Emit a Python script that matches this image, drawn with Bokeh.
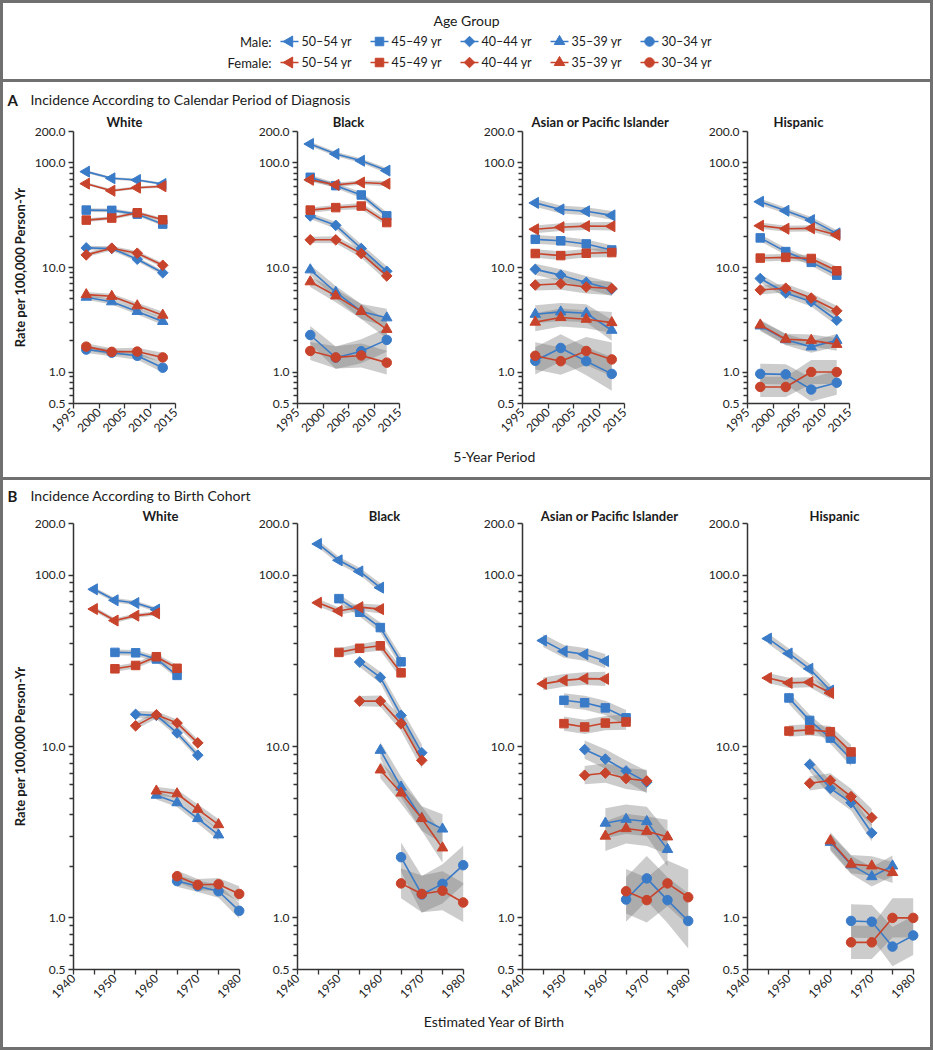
import math
from bokeh.plotting import figure
from bokeh.models import (Range1d, FixedTicker, NumeralTickFormatter, Title,
                          ColumnDataSource, Div)
from bokeh.layouts import column, row
from bokeh.embed import file_html
from bokeh.resources import INLINE
from bokeh.core.properties import value

# ---------------------------------------------------------------- data
RACES = ["White", "Black", "Asian or Pacific Islander", "Hispanic"]
SEXES = ["Male:", "Female:"]
AGE_LABELS = ["50\u201354 yr", "45\u201349 yr", "40\u201344 yr", "35\u201339 yr", "30\u201334 yr"]
AGE_MID = [52.5, 47.5, 42.5, 37.5, 32.5]
PERIOD_MID = [1997.5, 2002.5, 2007.5, 2012.5]
PERIOD_TICKS = [1995, 2000, 2005, 2010, 2015]
COHORT_TICKS = [1940, 1945, 1950, 1955, 1960, 1965, 1970, 1975, 1980]
Y_TICKS = [0.5, 1, 10, 100, 200]
Y_MINOR = [0.6, 0.7, 0.8, 0.9, 2, 3, 4, 5, 6, 7, 8, 9, 20, 30, 40, 50, 60, 70, 80, 90]

# rates per 100,000 person-years; rows = age groups (50-54 ... 30-34), cols = periods
WHITE_MALE = [[82.6, 71.3, 68.7, 62.9], [35.4, 35.2, 32.4, 26.0], [15.4, 15.2, 12.0, 8.9],
              [5.2, 4.7, 3.8, 3.05], [1.64, 1.53, 1.43, 1.10]]
WHITE_FEMALE = [[63.4, 54.3, 58.0, 59.8], [28.4, 29.7, 33.4, 28.6], [13.2, 15.3, 13.7, 10.5],
                [5.5, 5.3, 4.3, 3.5], [1.75, 1.56, 1.57, 1.38]]
BLACK_MALE = [[152.0, 122.0, 105.0, 84.5], [72.9, 60.7, 49.4, 31.2], [31.1, 25.3, 15.2, 9.2],
              [9.5, 5.8, 3.8, 3.3], [2.26, 1.37, 1.58, 2.03]]
BLACK_FEMALE = [[69.0, 61.7, 65.0, 63.3], [35.4, 37.4, 38.7, 26.9], [18.4, 18.4, 13.6, 8.3],
                [7.3, 5.35, 3.8, 2.56], [1.59, 1.38, 1.44, 1.23]]
ASIAN_MALE = [[41.5, 35.9, 34.5, 31.5], [18.6, 18.0, 16.8, 14.7], [9.6, 8.45, 7.2, 6.2],
              [3.57, 3.76, 3.65, 2.51], [1.28, 1.70, 1.27, 0.96]]
ASIAN_FEMALE = [[23.2, 24.3, 24.9, 24.8], [13.6, 13.0, 13.7, 13.9], [6.8, 7.0, 6.5, 6.3],
                [3.0, 3.32, 3.2, 2.97], [1.43, 1.27, 1.59, 1.32]]
HISPANIC_MALE = [[42.6, 34.9, 28.4, 21.2], [19.2, 14.2, 11.2, 8.45], [7.85, 5.7, 4.7, 3.13],
                 [2.76, 2.04, 1.74, 2.01], [0.96, 0.95, 0.68, 0.79]]
HISPANIC_FEMALE = [[25.1, 23.5, 23.7, 20.5], [12.3, 12.5, 12.2, 9.3], [6.1, 6.34, 5.1, 3.85],
                   [2.82, 2.06, 2.01, 1.84], [0.72, 0.72, 1.0, 1.0]]

# 95% CI as multiplicative half-width (upper = rate*f, lower = rate/f)
WHITE_CI = [[1.03, 1.03, 1.03, 1.03], [1.04, 1.04, 1.04, 1.04], [1.05, 1.05, 1.05, 1.05],
            [1.06, 1.06, 1.07, 1.08], [1.08, 1.08, 1.09, 1.11]]
BLACK_CI = [[1.05, 1.05, 1.05, 1.06], [1.06, 1.06, 1.07, 1.08], [1.07, 1.08, 1.10, 1.12],
            [1.12, 1.15, 1.18, 1.22], [1.22, 1.28, 1.30, 1.30]]
ASIAN_CI = [[1.09, 1.09, 1.09, 1.10], [1.10, 1.10, 1.10, 1.11], [1.13, 1.14, 1.15, 1.16],
            [1.22, 1.22, 1.22, 1.26], [1.35, 1.35, 1.36, 1.45]]
HISPANIC_CI = [[1.07, 1.07, 1.07, 1.08], [1.08, 1.08, 1.08, 1.10], [1.10, 1.10, 1.11, 1.12],
               [1.12, 1.13, 1.14, 1.15], [1.25, 1.25, 1.30, 1.30]]

RACE_DATA = [(WHITE_MALE, WHITE_FEMALE, WHITE_CI), (BLACK_MALE, BLACK_FEMALE, BLACK_CI),
             (ASIAN_MALE, ASIAN_FEMALE, ASIAN_CI), (HISPANIC_MALE, HISPANIC_FEMALE, HISPANIC_CI)]

# ---------------------------------------------------------------- style
FONT = "Lato"
BLUE = "#3a7bc8"
RED = "#c8432b"
SEX_COLORS = [BLUE, RED]
FRAME = "#707070"
AXIS = "#333333"
BAND = "#7a7a7a"
TXT = "#1a1a1a"
MARKERS = [("triangle", math.pi / 2, 11), ("square", 0, 8.5), ("square", math.pi / 4, 7.5),
           ("triangle", 0, 10.5), ("circle", 0, 9.5)]

TOTAL_W, TOTAL_H, BW = 933, 1050, 3
INNER_W = TOTAL_W - 2 * BW
FIG_W = [246, 225, 225, 231]
FIG_L = [70, 48, 48, 48]
BANDS_H = dict(legend=76, ah=26, rowa=332, af=37, bh=23, rowb=502, bf=42)

# legend key layout (pixels within the legend band)
KEY_X0, KEY_PITCH, KEY_ROW_Y, KEY_HALF_LINE, KEY_LABEL_GAP = 286, 90, [38, 17], 9, 12


def style_axis(ax):
    ax.axis_line_color = AXIS
    ax.axis_line_width = 1.5
    ax.major_tick_line_color = AXIS
    ax.minor_tick_line_color = AXIS
    ax.major_tick_line_width = 1.3
    ax.minor_tick_line_width = 1.3
    ax.major_tick_in = 0
    ax.minor_tick_in = 0
    ax.major_tick_out = 5
    ax.minor_tick_out = 4
    ax.major_label_text_font = FONT
    ax.major_label_text_font_size = "12px"
    ax.major_label_text_color = "#222222"


def make_subplot(panel, ri):
    if panel == "A":
        xr = Range1d(1995, 2015)
        frame_w, height, top, bottom = 102, BANDS_H["rowa"], 23, 37
    else:
        xr = Range1d(1940, 1982)
        frame_w, height, top, bottom = 174, BANDS_H["rowb"], 20, 36
    width, left = FIG_W[ri], FIG_L[ri]
    p = figure(width=width, height=height, x_range=xr, y_range=Range1d(0.5, 200),
               y_axis_type="log", output_backend="svg", toolbar_location=None,
               min_border_left=left, min_border_right=width - left - frame_w,
               min_border_top=top, min_border_bottom=bottom)
    p.grid.visible = False
    p.outline_line_color = None

    if panel == "A" and ri == 2:
        t = Title(text=RACES[ri], align="left", offset=9)
    else:
        t = Title(text=RACES[ri], align="center")
    t.text_font = FONT
    t.text_font_size = "13px"
    t.text_font_style = "bold"
    t.text_color = TXT
    t.standoff = 3 if panel == "A" else 0
    p.add_layout(t, "above")

    xa, ya = p.xaxis[0], p.yaxis[0]
    style_axis(xa)
    style_axis(ya)
    ya.ticker = FixedTicker(ticks=Y_TICKS, minor_ticks=Y_MINOR)
    ya.formatter = NumeralTickFormatter(format="0.0")
    ya.major_label_standoff = 3
    if ri == 0:
        ya.axis_label = "Rate per 100,000 Person-Yr"
        ya.axis_label_text_font = FONT
        ya.axis_label_text_font_size = "13px"
        ya.axis_label_text_font_style = "bold"
        ya.axis_label_text_color = TXT
        ya.axis_label_standoff = 4
    xa.major_label_orientation = math.pi / 4
    xa.major_label_standoff = 2
    if panel == "A":
        xa.ticker = FixedTicker(ticks=PERIOD_TICKS, minor_ticks=[])
    else:
        xa.ticker = FixedTicker(ticks=COHORT_TICKS, minor_ticks=[])
        xa.major_label_overrides = {1945: "", 1955: "", 1965: "", 1975: ""}
        xa.bounds = (1940, 1980)

    male, female, ci = RACE_DATA[ri]

    def xs_for(ai):
        if panel == "A":
            return list(PERIOD_MID)
        return [pm - AGE_MID[ai] for pm in PERIOD_MID]

    for vals in (male, female):
        for ai in range(5):
            src = ColumnDataSource(dict(
                x=xs_for(ai),
                lo=[v / f for v, f in zip(vals[ai], ci[ai])],
                hi=[v * f for v, f in zip(vals[ai], ci[ai])]))
            p.varea(x="x", y1="lo", y2="hi", source=src, fill_color=BAND, fill_alpha=0.38)

    for vals, color in ((male, BLUE), (female, RED)):
        for ai in range(5):
            src = ColumnDataSource(dict(x=xs_for(ai), y=vals[ai]))
            m, ang, sz = MARKERS[ai]
            p.line(x="x", y="y", source=src, line_color=color, line_width=1.6)
            p.scatter(x="x", y="y", source=src, marker=m, angle=ang, size=sz,
                      fill_color=color, line_color=color, line_width=1)
    return p


def blank_fig(h):
    f = figure(width=INNER_W, height=h, x_range=Range1d(0, INNER_W), y_range=Range1d(0, h),
               output_backend="svg", toolbar_location=None, min_border=0,
               x_axis_location=None, y_axis_location=None)
    f.outline_line_color = None
    f.grid.visible = False
    return f


def add_text(f, x, y, t, size="13px", style="normal", align="left"):
    f.text(x=[x], y=[y], text=[t], text_font=value(FONT), text_font_size=size,
           text_font_style=style, text_align=align, text_baseline="middle", text_color=TXT)


# ---------------------------------------------------------------- legend band (key)
leg = blank_fig(BANDS_H["legend"])
add_text(leg, 463, 59, "Age Group", size="14px", align="center")
for si in range(2):
    ky = KEY_ROW_Y[si]
    color = SEX_COLORS[si]
    add_text(leg, KEY_X0 - 18, ky, SEXES[si], size="13px", align="right")
    for ai, (m, ang, sz) in enumerate(MARKERS):
        cx = KEY_X0 + ai * KEY_PITCH
        leg.segment(x0=[cx - KEY_HALF_LINE], y0=[ky], x1=[cx + KEY_HALF_LINE], y1=[ky],
                    line_color=color, line_width=1.6)
        leg.scatter(x=[cx], y=[ky], marker=m, angle=ang, size=sz,
                    fill_color=color, line_color=color)
        add_text(leg, cx + KEY_LABEL_GAP, ky, AGE_LABELS[ai], size="12.5px")

# ---------------------------------------------------------------- text bands
ah = blank_fig(BANDS_H["ah"])
add_text(ah, 4, 9, "A", size="15px", style="bold")
add_text(ah, 27, 9, "Incidence According to Calendar Period of Diagnosis", size="14px")

af = blank_fig(BANDS_H["af"])
add_text(af, 491, 21, "5-Year Period", size="14px", align="center")

bh = blank_fig(BANDS_H["bh"])
add_text(bh, 4, 8, "B", size="15px", style="bold")
add_text(bh, 27, 8, "Incidence According to Birth Cohort", size="14px")

bf = blank_fig(BANDS_H["bf"])
add_text(bf, 491, 26, "Estimated Year of Birth", size="14px", align="center")

row_a = row([make_subplot("A", i) for i in range(4)], spacing=0)
row_b = row([make_subplot("B", i) for i in range(4)], spacing=0)


def bar(w, h):
    return Div(text="", width=w, height=h, margin=0,
               styles={"background-color": FRAME})


inner = column([leg, bar(INNER_W, 3), ah, row_a, af, bar(INNER_W, 3), bh, row_b, bf],
               spacing=0)
inner_h = sum(BANDS_H.values()) + 6
layout = column([bar(TOTAL_W, BW),
                 row([bar(BW, inner_h), inner, bar(BW, inner_h)], spacing=0),
                 bar(TOTAL_W, BW)], spacing=0)

open("out.html", "w").write(file_html(layout, INLINE, title="Colorectal cancer incidence"))
